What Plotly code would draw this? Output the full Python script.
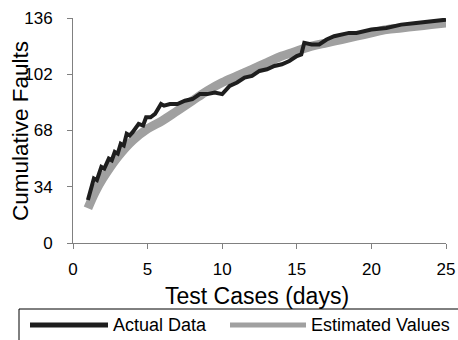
import plotly.graph_objects as go

# Actual data (cumulative faults observed)
actual_x = [1.0, 1.2, 1.4, 1.6, 1.9, 2.1, 2.4, 2.6, 2.8, 3.0, 3.2, 3.4, 3.6, 3.8, 4.0, 4.4, 4.7,
            4.9, 5.2, 5.5, 5.9, 6.1, 6.5, 7.0, 7.5, 8.0, 8.5, 9.0, 9.5, 10.0, 10.5, 11.0, 11.5,
            12.0, 12.5, 13.0, 13.5, 14.0, 14.5, 15.0, 15.3, 15.5, 16.0, 16.5, 17.0, 17.5, 18.0,
            18.5, 19.0, 20.0, 21.0, 22.0, 23.0, 24.0, 25.0]
actual_y = [26, 33, 39, 38, 46, 45, 51, 50, 55, 54, 60, 59, 66, 65, 67, 72, 71,
            76, 76, 78, 84, 83, 84, 84, 86, 87, 90, 90, 91, 90, 95, 97, 100,
            101, 104, 105, 107, 108, 110, 113, 114, 121, 120, 120, 123, 125, 126,
            127, 127, 129, 130, 132, 133, 134, 135]

# Estimated values (model)
est_x = [1, 1.5, 2, 3, 4, 5, 6, 7, 8, 9, 10, 11, 12, 13, 14, 15, 16, 17, 18, 19, 20, 21, 22, 23, 24, 25]
est_y = [21, 31, 39, 52, 62, 69, 74, 80, 86, 92, 97, 101, 105, 109, 113, 116, 119, 121, 123, 125,
         127, 129, 130, 131, 132, 133]

x_ticks = [0, 5, 10, 15, 20, 25]
y_ticks = [0, 34, 68, 102, 136]

series_names = ["Actual Data", "Estimated Values"]
series_colors = ["#1e1e1e", "#a0a0a0"]
x_title = "Test Cases (days)"
y_title = "Cumulative Faults"

FONT = "Liberation Sans, Arial, sans-serif"
W, H = 458, 340
L, R, T, B = 73, 12, 18, 97
PW, PH = W - L - R, H - T - B


def px(xp):
    return (xp - L) / PW


def py(yp):
    return (H - B - yp) / PH


fig = go.Figure()
fig.add_trace(go.Scatter(x=est_x, y=est_y, mode="lines", name=series_names[1],
                         line=dict(color=series_colors[1], width=9, shape="spline")))
fig.add_trace(go.Scatter(x=actual_x, y=actual_y, mode="lines", name=series_names[0],
                         line=dict(color=series_colors[0], width=4)))

axis_common = dict(showgrid=False, zeroline=False, showline=True, linecolor="#808080", linewidth=1,
                   ticks="outside", tickcolor="#808080", ticklen=5, tickwidth=1,
                   tickfont=dict(family=FONT, size=17, color="#000"))

# manual legend (box, samples, labels)
shapes = [dict(type="rect", xref="paper", yref="paper", x0=px(19), x1=px(470), y0=py(309), y1=py(350),
               line=dict(color="#000", width=1), fillcolor="white", layer="above")]
annotations = []
legend_items = [(30, 108, 111), (230, 306, 309)]
for (sx0, sx1, tx), name, col in zip(legend_items, series_names, series_colors):
    shapes.append(dict(type="line", xref="paper", yref="paper", x0=px(sx0), x1=px(sx1), y0=py(325), y1=py(325),
                       line=dict(color=col, width=5), layer="above"))
    annotations.append(dict(xref="paper", yref="paper", x=px(tx), y=py(325), text=name, showarrow=False,
                            xanchor="left", yanchor="middle",
                            font=dict(family=FONT, size=18, color="#000")))

# axis titles
annotations.append(dict(xref="paper", yref="paper", x=px(257), y=py(296), text=x_title, showarrow=False,
                        xanchor="center", yanchor="middle", font=dict(family=FONT, size=23, color="#000")))
annotations.append(dict(xref="paper", yref="paper", x=px(20), y=py(131), text=y_title, showarrow=False,
                        textangle=-90, xanchor="center", yanchor="middle",
                        font=dict(family=FONT, size=22.5, color="#000")))

fig.update_layout(
    width=W, height=H,
    margin=dict(l=L, r=R, t=T, b=B, autoexpand=False),
    paper_bgcolor="white", plot_bgcolor="white",
    showlegend=False,
    shapes=shapes, annotations=annotations,
    xaxis=dict(range=[0, 25], tickvals=x_ticks, ticklabelstandoff=6, **axis_common),
    yaxis=dict(range=[0, 136], tickvals=y_ticks, ticklabelstandoff=11, **axis_common),
)

fig.write_html("out.html", config={"displayModeBar": False},
               post_script="document.body.style.margin='0';")
